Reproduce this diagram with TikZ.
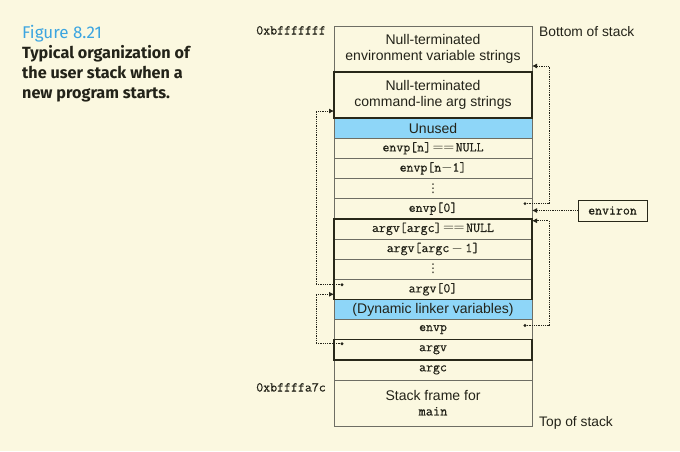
\documentclass[tikz,border=0pt]{standalone}
\usepackage{fontspec}
\setmainfont{Liberation Sans}
\newfontfamily\capfont{Fira Sans}
\newfontfamily\djv{DejaVu Sans}
\newfontfamily\ttx[FakeBold=0.6]{Latin Modern Mono}
\usetikzlibrary{arrows.meta}
\definecolor{bg}{RGB}{251,248,224}
\definecolor{cellblue}{RGB}{142,214,248}
\definecolor{figblue}{RGB}{60,165,224}
\definecolor{thinline}{RGB}{110,110,100}
\definecolor{thickline}{RGB}{40,40,25}
\definecolor{ink}{RGB}{35,35,25}
\newcommand{\eqeq}{\kern1.5pt$=$\kern-0.3pt$=$\kern1.5pt}
\begin{document}
\begin{tikzpicture}[x=1pt,y=-1pt,
  cell/.style={draw=thinline, line width=0.7pt, minimum width=198pt, inner sep=0pt, outer sep=0pt,
    anchor=north west, align=center, text=ink, font=\fontsize{14}{15.7}\selectfont},
  tallcell/.style={cell, minimum height=46pt},
  rowcell/.style={cell, minimum height=20.15pt},
  ttcell/.style={rowcell, font=\ttx\fontsize{13.5}{15}\selectfont},
  dotcell/.style={rowcell, font=\djv\fontsize{12}{12}\selectfont},
  bluecell/.style={rowcell, fill=cellblue},
  thickbox/.style={draw=thickline, line width=1.5pt},
  ptr/.style={densely dotted, line width=0.8pt, draw=ink, -{Latex[length=5pt,width=5pt]}},
  ptrdot/.style={fill=ink},
  addr/.style={anchor=base east, inner sep=0pt, text=ink, font=\ttx\fontsize{13.5}{15}\selectfont},
  side/.style={anchor=base west, inner sep=0pt, text=ink, font=\fontsize{13.8}{16}\selectfont},
  captxt/.style={anchor=base west, inner sep=0pt, text=ink, font=\capfont\bfseries\fontsize{16.2}{18}\selectfont}
]
\fill[bg] (0,0) rectangle (680,451);
\useasboundingbox (0,0) rectangle (680,451);

% caption
\node[anchor=base west, inner sep=0pt, text=figblue, font=\capfont\fontsize{17}{19}\selectfont] (fig) at (22,38.5) {Figure 8.21};
\node[captxt] (cap1) at (22,58.5) {Typical organization of};
\node[captxt] (cap2) at (22,78.5) {the user stack when a};
\node[captxt] (cap3) at (22,98.5) {new program starts.};

% stack cells
\node[tallcell] (env) at (334,26) {Null-terminated\\environment variable strings};
\node[tallcell] (cmd) at (334,72) {Null-terminated\\command-line arg strings};
\node[bluecell] (unused) at (334,118) {Unused};
\node[ttcell] (envpn) at (334,138.15) {envp[n]\eqeq NULL};
\node[ttcell] (envpn1) at (334,158.3) {envp[n$-$1]};
\node[dotcell] (edots) at (334,178.45) {⋮};
\node[ttcell] (envp0) at (334,198.6) {envp[0]};
\node[ttcell] (argvc) at (334,218.75) {argv[argc]\eqeq NULL};
\node[ttcell] (argvc1) at (334,238.9) {argv[argc$\,-\,$1]};
\node[dotcell] (adots) at (334,259.05) {⋮};
\node[ttcell] (argv0) at (334,279.2) {argv[0]};
\node[bluecell] (dyn) at (334,299.35) {(Dynamic linker variables)};
\node[ttcell] (envpr) at (334,319.5) {envp};
\node[ttcell] (argvr) at (334,339.65) {argv};
\node[ttcell] (argcr) at (334,359.8) {argc};
\node[cell, minimum height=46.5pt, font=\fontsize{14}{14.5}\selectfont] (frame) at (334,379.95) {Stack frame for\\{\ttx main}};

% thick outlines
\draw[thickbox] (cmd.north west) rectangle (cmd.south east);
\draw[thickbox] (argvc.north west) rectangle (argv0.south east);
\draw[thickbox] (argvr.north west) rectangle (argvr.south east);

% addresses and side labels
\node[addr] (a1) at (326,34.5) {0xbfffffff};
\node[addr] (a2) at (326,391.5) {0xbffffa7c};
\node[side] (bot) at (539,36.5) {Bottom of stack};
\node[side] (top) at (539,426) {Top of stack};

% environ
\node[draw=thickline, line width=0.8pt, fill=bg, minimum width=69pt, minimum height=21pt, inner sep=0pt,
  text=ink, font=\ttx\fontsize{13.5}{15}\selectfont] (environ) at (612.5,210.5) {environ};
\draw[ptr] (environ.west) -- (environ.west -| envp0.east);

% pointers
\coordinate (d1) at ([xshift=-7pt,yshift=-5pt]envp0.north east);
\coordinate (d3) at ([xshift=-7pt,yshift=-6pt]envpr.north east);
\coordinate (d4) at ([xshift=8pt,yshift=-5.5pt]argv0.north west);
\coordinate (d5) at ([xshift=8pt,yshift=-4pt]argvr.north west);
\fill[ptrdot] (d1) circle (1.6pt);
\fill[ptrdot] (d3) circle (1.6pt);
\fill[ptrdot] (d4) circle (1.6pt);
\fill[ptrdot] (d5) circle (1.6pt);
\draw[ptr] (d1) -- ++(24pt,0pt) |- ([yshift=-17pt]env.east);
\draw[ptr] (d3) -- ++(24pt,0pt) |- ([yshift=-2pt]argvc.north east);
\draw[ptr] (d4) -- ++(-26pt,0pt) |- ([yshift=-16pt]cmd.west);
\draw[ptr] (d5) -- ++(-26pt,0pt) |- ([yshift=-5pt]argv0.west);
\end{tikzpicture}
\end{document}
